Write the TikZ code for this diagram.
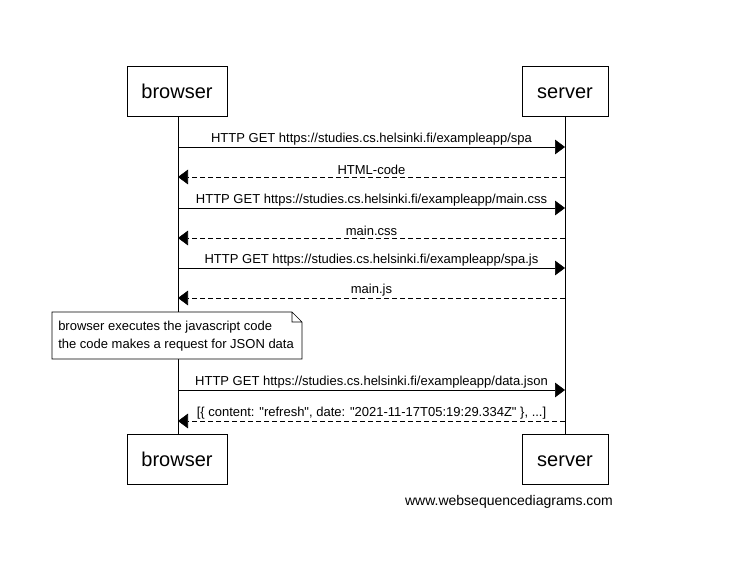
\documentclass[tikz,border=0pt]{standalone}
\usepackage{fontspec}
\setmainfont{Liberation Sans}
\usetikzlibrary{arrows.meta}

\begin{document}
\begin{tikzpicture}
  [x=0.75pt,y=-0.75pt,
  actor/.style={draw,minimum height=37.5pt,inner sep=0,
    text height=12pt,text depth=1pt,
    font=\fontsize{15}{18}\selectfont},
  msg/.style={-{Triangle[length=7.5pt,width=11pt]}},
  reply/.style={msg,dash pattern=on 3.75pt off 2.25pt},
  lbl/.style={inner sep=0,font=\fontsize{9.75}{13.5}\selectfont}]
  \useasboundingbox (0,0) rectangle (734,566);
  % khung hai đối tượng
  \node[actor,minimum width=75pt] (bt) at (177,91) {browser};
  \node[actor,minimum width=64.5pt] (st) at (565,91) {server};
  \node[actor,minimum width=75pt] (bb) at (177,459) {browser};
  \node[actor,minimum width=64.5pt] (sb) at (565,459) {server};
  \draw ([xshift=.75pt]bt.south)--([xshift=.75pt]bb.north) (st)--(sb);
  \foreach \y in {147,177,208,238,268,298,390,421}
  \path (178,\y) coordinate (b\y) (565,\y) coordinate (s\y);
  % các thông điệp
  \foreach \y/\f/\t/\s/\txt in {
    147/b/s/msg/{HTTP GET https://studies.cs.helsinki.fi/exampleapp/spa},
    177/s/b/reply/{HTML-code},
    208/b/s/msg/{HTTP GET https://studies.cs.helsinki.fi/exampleapp/main.css},
    238/s/b/reply/{main.css},
    268/b/s/msg/{HTTP GET https://studies.cs.helsinki.fi/exampleapp/spa.js},
    298/s/b/reply/{main.js},
    390/b/s/msg/{HTTP GET https://studies.cs.helsinki.fi/exampleapp/data.json},
    421/s/b/reply/{[\{ content: \textquotedbl refresh\textquotedbl, date: \textquotedbl 2021-11-17T05:19:29.334Z\textquotedbl\ \}, ...]}}
  \draw[\s] (\f\y) -- node[lbl,above=1.5pt]{\txt} (\t\y);
  % ghi chú
  \draw[fill=white] (52,312)--(292,312)--(302,322)--(302,359)--(52,359)--cycle
  (292,312)--(292,322)--(302,322);
  \node[lbl,align=left,anchor=west] (note) at (58,336)
  {browser executes the javascript code\\the code makes a request for JSON data};
  \node[inner sep=0,font=\fontsize{10.5}{13}\selectfont] (credit) at (509,502)
  {www.websequencediagrams.com};
\end{tikzpicture}
\end{document}
